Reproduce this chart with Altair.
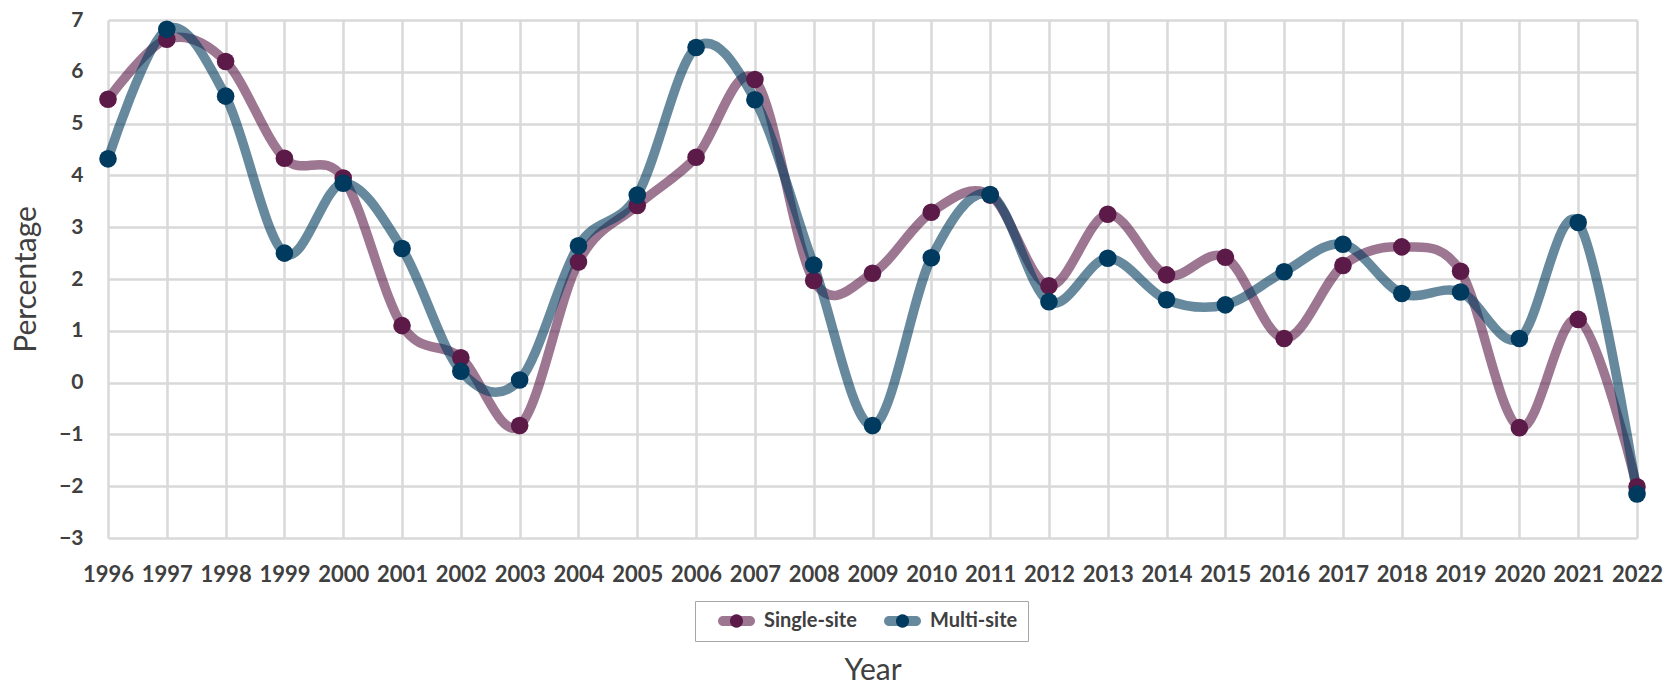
import altair as alt
import pandas as pd

# Annual percentage change, single-site vs multi-site businesses
years = list(range(1996, 2023))
single_site = [5.47, 6.63, 6.20, 4.33, 3.95, 1.10, 0.48, -0.83, 2.33, 3.42,
               4.35, 5.85, 1.97, 2.11, 3.29, 3.62, 1.87, 3.25, 2.08, 2.42,
               0.85, 2.26, 2.62, 2.15, -0.87, 1.22, -2.01]
multi_site = [4.32, 6.82, 5.53, 2.50, 3.85, 2.59, 0.22, 0.05, 2.64, 3.62,
              6.47, 5.46, 2.27, -0.83, 2.41, 3.63, 1.56, 2.40, 1.60, 1.50,
              2.14, 2.67, 1.72, 1.75, 0.85, 3.09, -2.15]
series_names = ["Single-site", "Multi-site"]
series_colors = ["#5c1a48", "#003a5e"]
y_ticks = list(range(-3, 8))

rows = []
for name, values in zip(series_names, [single_site, multi_site]):
    for yr, v in zip(years, values):
        rows.append({"Year": yr, "Percentage": v, "Series": name})
df = pd.DataFrame(rows)

FONT = "Lato"
TEXT = "#404040"
GRID = "#d9d9d9"

x_enc = alt.X(
    "Year:Q",
    scale=alt.Scale(domain=[1996, 2022], nice=False, zero=False),
    axis=alt.Axis(
        values=years, format="d", title="Year",
        labelFont=FONT, labelFontSize=22, labelFontWeight="bold",
        labelColor=TEXT, labelPadding=26, labelFlush=False,
        labelOverlap=False, tickSize=0, domain=False,
        grid=True, gridColor=GRID, gridWidth=2.5,
        titleFont=FONT, titleFontSize=30, titleFontWeight="normal",
        titleColor=TEXT, titleY=141, titleBaseline="alphabetic",
    ),
)
y_enc = alt.Y(
    "Percentage:Q",
    scale=alt.Scale(domain=[-3, 7], nice=False, zero=False),
    axis=alt.Axis(
        values=y_ticks, title="Percentage",
        labelFont=FONT, labelFontSize=21, labelFontWeight="bold",
        labelColor=TEXT, labelPadding=25, tickSize=0, domain=False,
        grid=True, gridColor=GRID, gridWidth=2.5,
        titleFont=FONT, titleFontSize=30, titleFontWeight="normal",
        titleColor=TEXT, titleX=-73, titleBaseline="alphabetic",
    ),
)
color_scale = alt.Scale(domain=series_names, range=series_colors)

# Legend keys: a rounded bar (the line) with a dot (the marker) on top of it
KEY_BAR = ("M-0.286,-0.714 L3.571,-0.714 A0.714,0.714 0 0 1 3.571,0.714 "
           "L-0.286,0.714 A0.714,0.714 0 0 1 -0.286,-0.714 Z")
KEY_DOT = ("M0.714,0 A0.929,0.929 0 1 0 2.571,0 "
           "A0.929,0.929 0 1 0 0.714,0 Z")

legend_common = dict(
    orient="none", legendX=587, legendY=581, direction="horizontal",
    title=None, labelFont=FONT, labelFontSize=20, labelFontWeight="bold",
    labelColor=TEXT, padding=10, symbolSize=196, symbolStrokeWidth=0,
    symbolOffset=10, labelOffset=29, columnPadding=14,
)

key_bars = alt.Chart(df).mark_point(filled=True, opacity=0).encode(
    x=x_enc, y=y_enc,
    color=alt.Color(
        "Series:N", scale=color_scale, sort=series_names,
        legend=alt.Legend(
            symbolType=KEY_BAR, symbolOpacity=0.6,
            fillColor="white", strokeColor="#a6a6a6", **legend_common,
        ),
    ),
)

lines = alt.Chart(df).mark_line(
    interpolate="cardinal", strokeWidth=9.5, opacity=0.6, strokeCap="round"
).encode(
    x=x_enc, y=y_enc,
    color=alt.Color("Series:N", scale=color_scale, sort=series_names,
                    legend=None),
)

points = alt.Chart(df).mark_point(filled=True, size=310, opacity=1).encode(
    x=x_enc, y=y_enc,
    color=alt.Color(
        "Series:N", scale=color_scale, sort=series_names,
        legend=alt.Legend(
            symbolType=KEY_DOT, symbolOpacity=1, labelOpacity=0,
            **legend_common,
        ),
    ),
)

chart = (
    alt.layer(key_bars, lines, points)
    .resolve_legend(color="independent")
    .properties(
        width=1529, height=518,
        autosize=alt.AutoSizeParams(type="none"),
        padding={"left": 108, "top": 20, "right": 43, "bottom": 146},
        background="white",
    )
    .configure_view(stroke=None)
)

chart.save("out.html", embed_options={"renderer": "svg", "actions": False})
